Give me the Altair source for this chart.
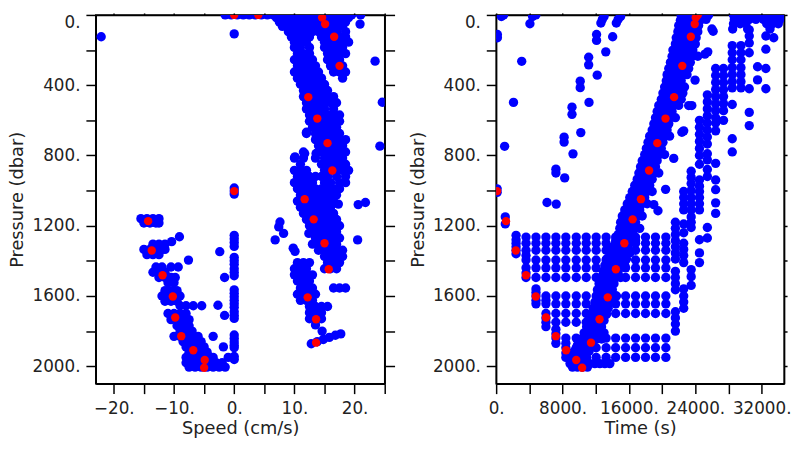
import altair as alt
import pandas as pd

# ================= LEFT PANEL : Speed (cm/s) vs Pressure (dbar) =================
left_top_speed = [-1.5, -0.5, 0.5, 1.5, 2.5, 3.5, 4.5, 5.5, 6.5, 7.5, 8.5, 9.5, 10.5,
                  11.5, 12.5, 13.5, 14.5, 15.5, 16.5, 17.5, 18.5, 19.5]

left_east_rows = [
    (15, [7, 8, 9, 10, 11, 12, 13, 14, 15, 16, 17, 18, 19]),
    (40, [7.5, 8.5, 9.5, 10.5, 11.5, 12.5, 13.5, 14.5, 15.5, 16.5, 17.5, 18.5]),
    (65, [8, 9, 10, 11, 12, 13, 14, 15, 16, 17, 18]),
    (95, [9, 10, 11, 12, 13, 14, 15, 16, 17, 18.5]),
    (125, [9.5, 10.5, 11.5, 12.5, 14.5, 15.5, 16.5, 17.5, 18.5]),
    (155, [10, 11, 12, 15, 16, 17, 18, 19]),
    (185, [10, 11, 12.5, 15, 16, 17, 18]),
    (220, [10.5, 11.5, 12.5, 15.5, 16.5, 17.5, 18.5]),
    (255, [10, 11, 12, 13, 15.5, 16.5, 17.5]),
    (290, [10.5, 11.5, 12.5, 13.5, 16, 17, 18]),
    (325, [10, 11, 12, 13, 14, 16.5, 17.5, 18.5]),
    (360, [10.5, 11.5, 12.5, 13.5, 14.5, 18]),
    (395, [11, 12, 13, 14, 15]),
    (430, [11.5, 12.5, 13.5, 14.5, 15.5]),
    (465, [11.5, 12.5, 13.5, 14.5, 15.5, 16.5]),
    (500, [12, 13, 14, 15, 16, 17]),
    (535, [12, 13, 14, 15, 16.5]),
    (570, [12.5, 13.5, 14.5, 15.5, 16.5, 17.5]),
    (605, [12.5, 13.5, 14.5, 15.5, 16.5, 17.5]),
    (640, [13, 14, 15, 16, 17]),
    (675, [12, 13.5, 14.5, 15.5, 16.5, 17.5]),
    (710, [13.5, 14.5, 15.5, 16.5, 17.5, 18.5]),
    (745, [14, 15, 16, 17, 18]),
    (780, [11.5, 14.5, 15.5, 16.5, 17.5, 18.5]),
    (815, [10, 11.5, 13.5, 15, 16, 17, 18]),
    (850, [11, 14.5, 15.5, 16.5, 17.5, 18.5]),
    (885, [10, 11, 12, 15, 16, 17, 18, 19]),
    (920, [10.5, 11.5, 12.5, 13.5, 14.5, 15.5, 17, 18.5]),
    (955, [10, 11, 12, 13, 15, 16, 17.5, 18.5]),
    (990, [10.5, 11.5, 12.5, 13.5, 14.5, 15.5, 16.5, 17.5]),
    (1025, [11, 12, 13, 14, 15, 16, 17]),
    (1060, [10.5, 11.5, 12.5, 13.5, 14.5, 15.5, 16.5]),
    (1095, [11, 12, 13, 14, 15, 16]),
    (1130, [11.5, 12.5, 13.5, 14.5, 15.5, 16.5]),
    (1165, [12, 13, 14, 15, 16, 17]),
    (1200, [12.5, 13.5, 14.5, 15.5, 16.5, 17.5]),
    (1235, [13, 14, 15, 16, 17]),
    (1270, [13.5, 14.5, 15.5, 16.5, 17.5]),
    (1305, [13, 14, 15, 16, 17]),
    (1340, [14, 15, 16, 17, 18]),
    (1375, [15, 16, 17, 18]),
    (1410, [10.5, 11.5, 12.5, 15.5, 16.5, 17.5]),
    (1445, [10, 11, 12, 15, 16, 17]),
    (1480, [10, 11, 12, 13]),
    (1515, [10.5, 11.5, 12.5]),
    (1555, [11, 12, 13, 16.5, 17.5, 18.5]),
    (1590, [10.5, 11.5, 12.5, 13.5]),
    (1625, [11, 12, 13]),
    (1660, [12.5, 13.5, 14.5, 15.5]),
    (1695, [12.5, 13.5, 14.5]),
    (1730, [12.5, 13.5, 14.5]),
    (1765, [13.5]),
    (1800, [14.6]),
]
left_streak_speed = [12.8, 13.8, 14.8, 15.8, 16.8, 17.7]
left_streak_p = [1872, 1860, 1848, 1836, 1824, 1816]

left_west_rows = [
    (1160, [-15.5, -14.5, -13.5, -12.5]),
    (1185, [-15, -14, -13, -12.5]),
    (1263, [-9.1]),
    (1291, [-10.4]),
    (1305, [-13.5, -12.5, -11.5]),
    (1335, [-15, -14, -13, -12, -11.5]),
    (1365, [-14.5, -13.5, -12.5]),
    (1396, [-7.6]),
    (1435, [-13, -12, -10.5, -9.3]),
    (1465, [-13.5, -12.5, -11.5]),
    (1495, [-12.5, -11.5, -10.5, -9.8]),
    (1525, [-11, -10]),
    (1570, [-11.5, -10.5, -9.5]),
    (1600, [-12, -11, -10, -9]),
    (1630, [-11.5, -10.5, -9.5]),
    (1656, [-9, -8, -6.8, -5.4]),
    (1700, [-11, -10, -9, -8]),
    (1735, [-10.5, -9.5, -8.5, -7.5]),
    (1770, [-9.5, -8.5, -7.5]),
    (1800, [-9, -8, -7]),
    (1830, [-10, -9, -8, -7, -6, -3.5]),
    (1860, [-8.5, -7.5, -6.5, -5.5]),
    (1890, [-8, -7, -6, -5, -1.8]),
    (1920, [-7.5, -6.5, -5.5, -4.5]),
    (1950, [-8, -7, -6, -5, -4, -3.5]),
    (1980, [-8, -7, -6, -5, -4, -3, -2]),
    (2005, [-7.5, -6.5, -5.5, -4.5, -3.5, -2.5, -1.5]),
]

left_zero_p = [985, 1003, 1020, 1255, 1275, 1295, 1318, 1380, 1400, 1420, 1445, 1465,
               1485, 1565, 1585, 1605, 1625, 1645, 1665, 1690, 1710, 1728, 1822, 1842,
               1862, 1880, 1895, 1945, 1962]
left_near_zero_speed = [-2.4, -1.6, -2.7, -1.6, -1.0]
left_near_zero_p = [1348, 1495, 1653, 1711, 1950]

left_iso_speed = [-22.1, 0, 20.9, 21, 23.4, 24.6, 24.2, 20.6, 21.8, 20.5, 17.3, 12.4,
                  7.6, 7.4, 8.2, 6.8, 9.8, 10.1, 12, 10.1, 11.7, 13.6, 16.6]
left_iso_p = [124, 108, 52, 0, 263, 497, 747, 1080, 1068, 1281, 1077, 1244,
              1179, 1207, 1244, 1281, 1328, 1346, 668, 808, 789, 789, 1020]

left_red_speed = [0, 4, 14.6, 15.1, 16.6, 17.5, 12.3, 13.8, 15.5, 16.3, 0, 11.7, 13.2,
                  -14.3, -13.7, -11.9, -10.2, -9.8, -8.8, -6.8, -4.9, -5.0,
                  15.0, 15.7, 12.2, 13.6, 13.6]
left_red_p = [0, 0, 15, 52, 124, 290, 468, 590, 730, 886, 1003, 1049, 1164,
              1174, 1341, 1482, 1603, 1723, 1829, 1909, 1965, 2009,
              1300, 1448, 1608, 1733, 1866]

# ================= RIGHT PANEL : Time (s) vs Pressure (dbar) =================
right_band_rows = [
    (5, [22300, 22900, 23500, 24100, 24700]),
    (30, [22200, 22800, 23400, 24000, 24600]),
    (60, [22000, 22600, 23200, 23800, 24400]),
    (95, [21900, 22500, 23100, 23700, 24300]),
    (130, [21700, 22300, 22900, 23500, 24100]),
    (165, [21600, 22200, 22800, 23400, 24000]),
    (200, [21300, 21900, 22500, 23100, 23700]),
    (235, [21200, 21800, 22400, 23000, 23600, 24300]),
    (270, [21000, 21600, 22200, 22800, 23400]),
    (305, [20800, 21400, 22000, 22600, 23200]),
    (340, [20600, 21200, 21800, 22400, 23000]),
    (375, [20500, 21100, 21700, 22300]),
    (410, [20300, 20900, 21500, 22100, 22700]),
    (445, [20100, 20700, 21300, 21900, 22500]),
    (480, [19900, 20500, 21100, 21700, 22300]),
    (515, [19600, 20200, 20800, 21400, 22000]),
    (550, [19400, 20000, 20600, 21200]),
    (585, [19200, 19800, 20400, 21000, 21600]),
    (620, [19000, 19600, 20200, 20800]),
    (655, [18800, 19400, 20000, 20600]),
    (690, [18500, 19100, 19700, 20300, 20900]),
    (725, [18300, 18900, 19500, 20100]),
    (760, [18100, 18700, 19300, 19900]),
    (795, [17900, 18500, 19100, 19700, 20300]),
    (830, [17600, 18200, 18800, 19400]),
    (865, [17400, 18000, 18600, 19200]),
    (900, [17200, 17800, 18400, 19000, 19600]),
    (935, [17000, 17600, 18200, 18800]),
    (970, [16700, 17300, 17900, 18500]),
    (1005, [16400, 17000, 17600, 18200, 18800]),
    (1040, [16100, 16700, 17300, 17900]),
    (1075, [15800, 16400, 17000, 17600, 18200]),
    (1110, [15500, 16100, 16700, 17300]),
    (1145, [15200, 15800, 16400, 17000, 17600]),
    (1180, [15000, 15600, 16200, 16800]),
    (1215, [14900, 15500, 16100, 16700, 17300]),
    (1250, [14700, 15300, 15900, 16500]),
    (1285, [14400, 15000, 15600, 16200, 16800]),
    (1320, [14100, 14700, 15300, 15900]),
    (1355, [13700, 14300, 14900, 15500, 16100]),
    (1390, [13300, 13900, 14500, 15100, 15700]),
    (1425, [13100, 13700, 14300, 14900, 15500]),
    (1460, [12900, 13500, 14100, 14700]),
    (1495, [12600, 13200, 13800, 14400, 15000]),
    (1530, [12400, 13000, 13600, 14200]),
    (1565, [12200, 12800, 13400, 14000]),
    (1600, [12100, 12700, 13300, 13900, 14500]),
    (1635, [11900, 12500, 13100, 13700]),
    (1670, [11700, 12300, 12900, 13500]),
    (1705, [11500, 12100, 12700, 13300]),
    (1740, [11200, 11800, 12400, 13000]),
    (1775, [10900, 11500, 12100, 12700]),
    (1810, [10600, 11200, 11800, 12400, 13000]),
    (1845, [10300, 10900, 11500, 12100, 12700]),
    (1880, [9800, 10400, 11000, 11600]),
    (1915, [9400, 10000, 10600, 11200]),
    (1950, [9100, 9700, 10300, 10900]),
    (1985, [8900, 9500, 10100, 10700, 11300, 11900, 12500, 13100, 13700]),
    (2005, [9200, 9800, 10400, 11000]),
]

right_grid_cols = [
    (2400, [1255, 1280, 1300, 1320, 1340, 1360]),
    (3600, [1265, 1300, 1340, 1370, 1395, 1440, 1470, 1495]),
    (4800, [1265, 1300, 1340, 1395, 1440, 1495, 1560, 1580, 1600, 1625, 1645]),
    (6000, [1265, 1300, 1340, 1395, 1440, 1495, 1600, 1625, 1645, 1700, 1725, 1750, 1775]),
    (7200, [1265, 1300, 1340, 1395, 1440, 1495, 1600, 1645, 1700, 1750, 1790, 1815, 1840, 1870]),
    (8400, [1265, 1300, 1340, 1395, 1440, 1495, 1600, 1645, 1700, 1750, 1840, 1870, 1895, 1925, 1950]),
    (9650, [1265, 1300, 1340, 1395, 1440, 1495, 1600, 1645, 1700, 1750, 1840, 1895, 1950]),
    (10850, [1265, 1300, 1340, 1395, 1440, 1495, 1600, 1645, 1700, 1750, 1840, 1895, 1950]),
    (12050, [1265, 1300, 1340, 1395, 1440, 1495, 1600, 1645, 1700, 1840, 1895, 1950]),
    (13250, [1265, 1300, 1340, 1395, 1440, 1495, 1600, 1645, 1700, 1840, 1895, 1950]),
    (14400, [1265, 1300, 1340, 1395, 1440, 1495, 1600, 1645, 1700, 1840, 1895, 1950]),
    (15600, [1265, 1300, 1340, 1395, 1440, 1495, 1600, 1645, 1700, 1840, 1895, 1950]),
    (16800, [1265, 1300, 1340, 1395, 1440, 1495, 1600, 1645, 1700, 1840, 1895, 1950]),
    (18000, [1265, 1300, 1340, 1395, 1440, 1495, 1600, 1645, 1700, 1840, 1895, 1950]),
    (19200, [1265, 1300, 1340, 1395, 1440, 1495, 1600, 1645, 1700, 1840, 1895, 1950]),
    (20450, [1265, 1300, 1340, 1395, 1440, 1495, 1600, 1645, 1700, 1840, 1895, 1950]),
]

right_side_cols = [
    (21600, [1180, 1215, 1250, 1285, 1320, 1355, 1390, 1460, 1495, 1530, 1565, 1690, 1725, 1760, 1800]),
    (22600, [1005, 1040, 1075, 1110, 1190, 1240, 1300, 1335, 1370, 1410, 1560, 1600, 1635, 1670]),
    (23500, [890, 925, 960, 1000, 1040, 1075, 1110, 1150, 1180, 1210, 1450, 1490, 1540]),
    (24500, [600, 640, 680, 720, 760, 800, 850, 940, 975, 1005, 1040, 1075, 1110, 1280, 1355, 1410]),
    (25450, [455, 495, 535, 575, 615, 655, 695, 735, 790, 825, 880, 920, 1210, 1270]),
    (26450, [305, 345, 385, 425, 465, 505, 545, 585, 615, 660, 845, 940, 995, 1070, 1130]),
    (27400, [305, 345, 385, 425, 465, 505, 545, 600]),
    (28450, [175, 215, 255, 300, 340, 380, 415, 510, 705, 780]),
    (29500, [175, 215, 255, 300, 340, 380, 415]),
    (30500, [85, 120, 160, 215, 420, 555, 630]),
    (31500, [295, 370]),
    (32500, [120, 195, 305, 420]),
    (33450, [130]),
]

right_top_rows = [
    (0, [25600, 28600, 29200, 29800, 30400, 31000, 31600, 32200, 32800, 33400, 34000, 34500]),
    (25, [25300, 28700, 29300, 29900, 30500, 31300, 32200, 32800, 33500, 34200]),
    (50, [28600, 29400, 30100, 32600, 33300, 34000]),
    (80, [26000, 28500, 30300, 33000]),
]

right_sparse_t = [630, 900, 150, 150, 4070, 4390, 4780, 3080, 2090, 1020, 12620, 12800,
                  13000, 12100, 12100, 14040, 14480, 14700, 15000, 13210, 11150, 11150,
                  12180, 10130, 10130, 11190, 9140, 9140, 10200, 8190, 8190, 9260, 7200,
                  7200, 8260, 6130, 7240, 120, 120, 1100, 1100,
                  25160, 25500, 23970, 23200, 23580, 22380, 22600, 21400, 20420, 26150,
                  19000, 19500]
right_sparse_p = [9, 0, 111, 130, 50, 9, 0, 264, 498, 748, 46, 25,
                  9, 111, 145, 124, 46, 25, 9, 210, 241, 284,
                  343, 377, 414, 498, 525, 566, 670, 696, 724, 791, 878,
                  900, 928, 1068, 1077, 990, 1010, 1150, 1190,
                  223, 210, 371, 516, 516, 668, 660, 817, 993, 93,
                  1080, 1115]

right_red_t = [24200, 24300, 24050, 23930, 23460, 22430, 21440, 20410, 19420, 18430,
               120, 17450, 16450, 1190, 2370, 3600, 4780, 6010, 7190, 8430, 9650,
               10360, 15450, 14430, 13450, 12460, 11430]
right_red_p = [0, 0, 15, 52, 124, 290, 468, 590, 730, 886,
               1003, 1049, 1164, 1174, 1341, 1482, 1603, 1723, 1829, 1909, 1965,
               2009, 1300, 1448, 1608, 1733, 1866]

# ---------------- build tables ----------------
lb = [(s, 0) for s in left_top_speed]
for p, ss in left_east_rows + left_west_rows:
    lb += [(s, p) for s in ss]
lb += list(zip(left_streak_speed, left_streak_p))
lb += [(0, p) for p in left_zero_p]
lb += list(zip(left_near_zero_speed, left_near_zero_p))
lb += list(zip(left_iso_speed, left_iso_p))
left_blue = pd.DataFrame(lb, columns=["x", "p"])
left_red = pd.DataFrame({"x": left_red_speed, "p": left_red_p})

rb = []
for p, ts in right_band_rows + right_top_rows:
    rb += [(t, p) for t in ts]
for t, ps in right_grid_cols + right_side_cols:
    rb += [(t, p) for p in ps]
rb += list(zip(right_sparse_t, right_sparse_p))
right_blue = pd.DataFrame(rb, columns=["x", "p"])
right_red = pd.DataFrame({"x": right_red_t, "p": right_red_p})

P_TICKS = [0, 200, 400, 600, 800, 1000, 1200, 1400, 1600, 1800, 2000]
P_LABEL = "datum.value % 400 == 0 ? datum.value + '.' : ''"
yscale = alt.Scale(domain=[0, 2100], reverse=True, nice=False, zero=False)


def panel(blue_df, red_df, xdomain, xticks, xlabel, xtitle, w, right_tick):
    xscale = alt.Scale(domain=xdomain, nice=False, zero=False)
    blue = alt.Chart(blue_df).mark_circle(size=90, opacity=1, color="#0000ff", clip=True).encode(
        x=alt.X("x:Q", scale=xscale,
                axis=alt.Axis(orient="bottom", values=xticks, labelExpr=xlabel, title=xtitle,
                              tickSize=10, labelPadding=7, titlePadding=3,
                              labelFlush=False, labelOverlap=False)),
        y=alt.Y("p:Q", scale=yscale,
                axis=alt.Axis(orient="left", values=P_TICKS, labelExpr=P_LABEL,
                              title="Pressure (dbar)", tickSize=10, labelPadding=6,
                              titlePadding=5.5, labelOverlap=False, labelFlush=True)),
    )
    red = alt.Chart(red_df).mark_circle(size=72, opacity=1, color="#ff0000", clip=True).encode(
        x=alt.X("x:Q", scale=xscale, axis=None),
        y=alt.Y("p:Q", scale=yscale, axis=None),
    )
    mirror = alt.Chart(red_df).mark_circle(opacity=0, size=1, clip=True).encode(
        x=alt.X("x:Q", scale=xscale,
                axis=alt.Axis(orient="top", values=xticks, labels=False, title=None, tickSize=2)),
        y=alt.Y("p:Q", scale=yscale,
                axis=alt.Axis(orient="right", values=P_TICKS, labels=False, title=None,
                              tickSize=right_tick)),
    )
    return alt.layer(blue, red, mirror).properties(width=w, height=374)


speed_label = ("datum.value % 10 == 0 ? (datum.value < 0 ? '\u2212' + abs(datum.value) "
               ": datum.value) + '.' : ''")
time_label = "datum.value % 8000 == 0 ? datum.value + '.' : ''"

left = panel(left_blue, left_red, [-23, 25],
             [-20, -15, -10, -5, 0, 5, 10, 15, 20, 25], speed_label, "Speed (cm/s)", 293, 10)
right = panel(right_blue, right_red, [0, 34700],
              [0, 4000, 8000, 12000, 16000, 20000, 24000, 28000, 32000], time_label,
              "Time (s)", 292, 3)

chart = alt.hconcat(left, right, spacing=12).properties(
    padding=0, background="white"
).configure_view(
    stroke="black", strokeWidth=1.5
).configure_axis(
    grid=False, domainColor="black", domainWidth=1.5, tickColor="black", tickWidth=1.5,
    labelFont="DejaVu Sans", labelFontSize=17, labelColor="#222222",
    titleFont="DejaVu Sans", titleFontSize=18, titleFontWeight="normal", titleColor="#222222",
)

chart.save("out.html", embed_options={"renderer": "svg", "actions": False})
